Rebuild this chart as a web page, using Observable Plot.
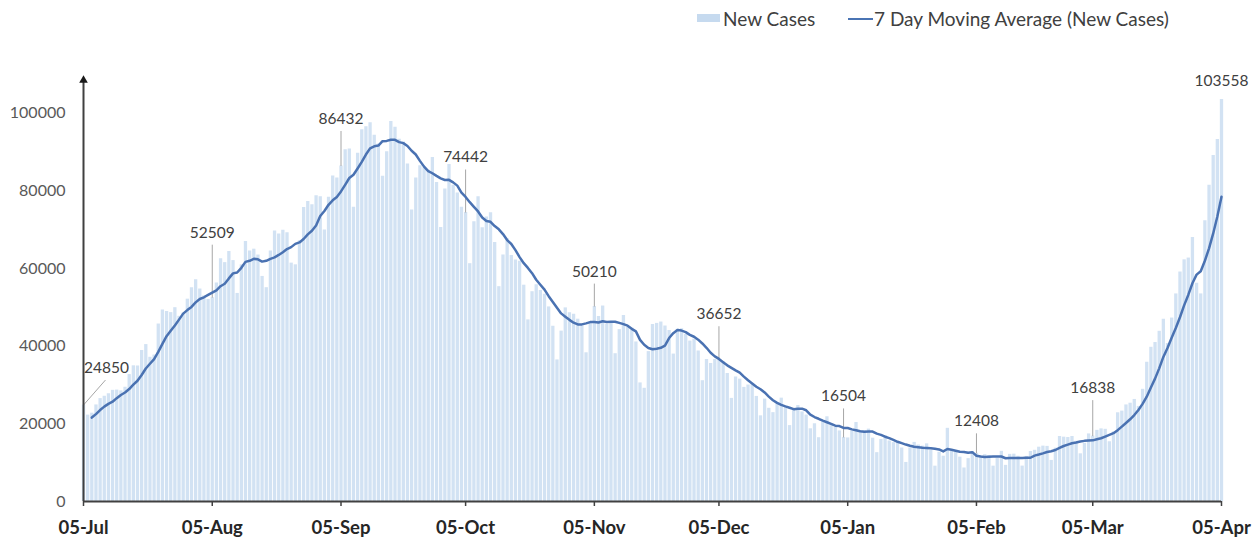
<!DOCTYPE html>
<html>
<head>
<meta charset="utf-8">
<script src="https://cdn.jsdelivr.net/npm/d3@7"></script>
<script src="https://cdn.jsdelivr.net/npm/@observablehq/plot@0.6"></script>
<style>
  html, body { margin: 0; padding: 0; background: #fff; }
  body { width: 1257px; height: 537px; overflow: hidden; font-family: Lato, "Open Sans", sans-serif; }
  #legend { position: relative; height: 38px; width: 1257px; color: #404040; font-size: 19px; }
  #legend .sw-bar { position: absolute; left: 697px; top: 14px; width: 23px; height: 8px; background: #c6daef; }
  #legend .sw-line { position: absolute; left: 848px; top: 18px; width: 25px; height: 2px; background: #4a74b4; }
  #legend .lbl { position: absolute; top: 7px; line-height: 24px; white-space: nowrap; }
</style>
</head>
<body>
<div id="legend">
  <div class="sw-bar"></div><div class="lbl" style="left:723px">New Cases</div>
  <div class="sw-line"></div><div class="lbl" style="left:874px">7 Day Moving Average (New Cases)</div>
</div>
<div id="chart"></div>
<script>
// ---- Data (daily new cases, India) ----
const startDate = "2020-07-05";
// 01-Jul .. 04-Jul (only used to start the 7-day average)
const priorCases = [18653, 19148, 20903, 22771];
const julCases = [24850, 22252, 22752, 24879, 26506, 27114, 27755, 28637, 28701, 28498, 29429, 32695, 34956, 34884, 38902, 40425, 37148, 37724, 45720, 49310, 48916, 48661, 49931, 47704, 48513, 52123, 55078];
const augCases = [57118, 54735, 52972, 52050, 52509, 56282, 62538, 61537, 64399, 62064, 53601, 60963, 66999, 64553, 65002, 63490, 57981, 55079, 64531, 69652, 68898, 69878, 69239, 61408, 60975, 67151, 75760, 77266, 76472, 78761, 78512];
const sepCases = [69921, 78357, 83883, 83341, 86432, 90632, 90802, 75809, 89706, 95735, 96551, 97570, 94372, 92071, 83809, 90123, 97894, 96424, 93337, 92605, 86961, 75083, 83347, 86508, 86052, 85362, 88600, 82170, 70589, 80472];
const octCases = [86821, 81484, 79476, 75829, 74442, 61267, 72049, 78524, 70496, 73272, 74383, 66732, 55342, 63509, 67708, 63371, 62212, 61871, 55722, 46790, 54044, 55838, 54366, 53370, 50129, 45148, 36470, 43893, 49881, 48648, 48268];
const novCases = [46963, 45231, 38310, 46253, 50210, 47638, 50356, 45674, 45903, 38073, 44281, 47905, 44879, 44684, 41100, 30548, 29163, 38617, 45576, 45882, 46232, 45209, 44059, 37975, 44376, 44489, 43082, 41322, 41810, 38772];
const decCases = [31118, 36604, 35551, 36595, 36652, 36011, 32981, 26567, 32080, 31521, 29398, 30006, 30254, 27071, 22065, 26382, 24010, 22890, 25152, 26624, 24337, 19556, 23950, 24712, 23068, 22273, 18732, 20021, 16432, 20550, 21822];
const janCases = [20035, 19078, 18177, 16504, 16375, 18088, 20346, 18139, 18222, 18645, 16311, 12584, 15968, 16946, 15590, 15158, 15144, 13788, 10064, 13823, 15223, 14545, 14256, 14849, 13203, 9102, 12689, 11666, 18855, 13083, 13052];
const febCases = [11427, 8635, 11039, 12899, 12408, 11713, 12059, 11831, 9110, 11067, 12923, 9309, 12143, 12194, 11649, 9121, 11610, 12881, 13193, 13993, 14264, 14199, 10584, 13742, 16738, 16577, 16488, 16752];
const marCases = [15510, 12286, 14989, 17407, 16838, 18327, 18711, 18599, 15388, 17921, 22854, 23285, 24882, 25320, 26291, 24492, 28903, 35871, 39726, 40953, 43846, 46951, 40715, 47262, 53476, 59118, 62258, 62714, 68020, 56211, 53480];
const aprCases = [72330, 81466, 89129, 93249, 103558];

const xTicks = ["2020-07-05", "2020-08-05", "2020-09-05", "2020-10-05", "2020-11-05", "2020-12-05", "2021-01-05", "2021-02-05", "2021-03-05", "2021-04-05"];
const yTicks = [0, 20000, 40000, 60000, 80000, 100000];
const annotatedDates = ["2020-07-05", "2020-08-05", "2020-09-05", "2020-10-05", "2020-11-05", "2020-12-05", "2021-01-04", "2021-02-05", "2021-03-05", "2021-04-05"];

// ---- Build table ----
const newCases = [].concat(julCases, augCases, sepCases, octCases, novCases, decCases, janCases, febCases, marCases, aprCases);
const t0 = new Date(startDate);
const data = newCases.map((v, i) => ({date: d3.utcDay.offset(t0, i), cases: v}));
const allCases = priorCases.concat(newCases);
const maData = [];
for (let i = 6; i < allCases.length; i++) {
  maData.push({date: d3.utcDay.offset(t0, i - priorCases.length), ma: d3.mean(allCases.slice(i - 6, i + 1))});
}
const byDate = new Map(data.map(d => [+d.date, d.cases]));

// ---- Layout ----
const W = 1257, H = 499, mL = 83, mR = 36, mT = 36, mB = 36;
const yMax = 110000;
const upp = yMax / (H - mT - mB);                  // data units per pixel
const xEnd = new Date("2021-04-05");
const dpp = (xEnd - t0) / 864e5 / (W - mL - mR);    // days per pixel
// label offset above the point (px), and horizontal shift (px)
const labelUp = {"2020-07-05": 37, "2020-08-05": 65, "2020-09-05": 47, "2020-10-05": 55, "2020-11-05": 35,
                 "2020-12-05": 45, "2021-01-04": 41, "2021-02-05": 32, "2021-03-05": 48, "2021-04-05": 18};
const labelDx = {"2020-07-05": 23};
const annos = annotatedDates.map(s => {
  const d = new Date(s), v = byDate.get(+d);
  const up = labelUp[s], dx = labelDx[s] || 0;
  return {
    date: d, value: v, label: String(v),
    lx: d3.utcHour.offset(d, Math.round(dx * dpp * 24)),
    ly: v + up * upp,
    tx: d3.utcHour.offset(d, Math.round((dx ? dx - 1 : 0) * dpp * 24)),
    ty: v + (up - 12) * upp,
    hasLeader: up > 25
  };
});

const chart = Plot.plot({
  width: W, height: H,
  marginLeft: mL, marginRight: mR, marginTop: mT, marginBottom: mB,
  style: {fontFamily: "Lato, 'Open Sans', sans-serif", background: "#fff", overflow: "visible"},
  x: {type: "utc", domain: [t0, xEnd]},
  y: {domain: [0, yMax]},
  marks: [
    Plot.ruleX(data, {x: "date", y1: 0, y2: "cases", stroke: "#d2e2f3", strokeWidth: 3.3}),
    Plot.link(annos.filter(a => a.hasLeader), {x1: "date", y1: "value", x2: "tx", y2: "ty", stroke: "#a6a6a6", strokeWidth: 1}),
    Plot.lineY(maData, {x: "date", y: "ma", stroke: "#4a72b2", strokeWidth: 2.5, curve: "linear"}),
    Plot.text(annos, {x: "lx", y: "ly", text: "label", fill: "#404040", fontSize: 15.5, textAnchor: "middle"}),
    Plot.ruleY([0], {stroke: "#404040", strokeWidth: 2}),
    Plot.ruleX([t0], {y1: 0, y2: 108500, stroke: "#404040", strokeWidth: 2}),
    Plot.dot([t0], {x: d => d, y: () => 108500, symbol: "triangle", r: 3.2, fill: "#1a1a1a", stroke: "none"}),
    Plot.axisY({ticks: yTicks, tickSize: 0, tickPadding: 18, tickFormat: d => String(d), fontSize: 16, fill: "#595959"}),
    Plot.axisX({ticks: xTicks.map(s => new Date(s)), tickSize: 5, tickPadding: 14, tickFormat: d3.utcFormat("%d-%b"),
                fontSize: 18.5, fontWeight: "bold", fill: "#262626", stroke: "#404040", strokeWidth: 1.5})
  ]
});
document.getElementById("chart").appendChild(chart);
</script>
</body>
</html>
